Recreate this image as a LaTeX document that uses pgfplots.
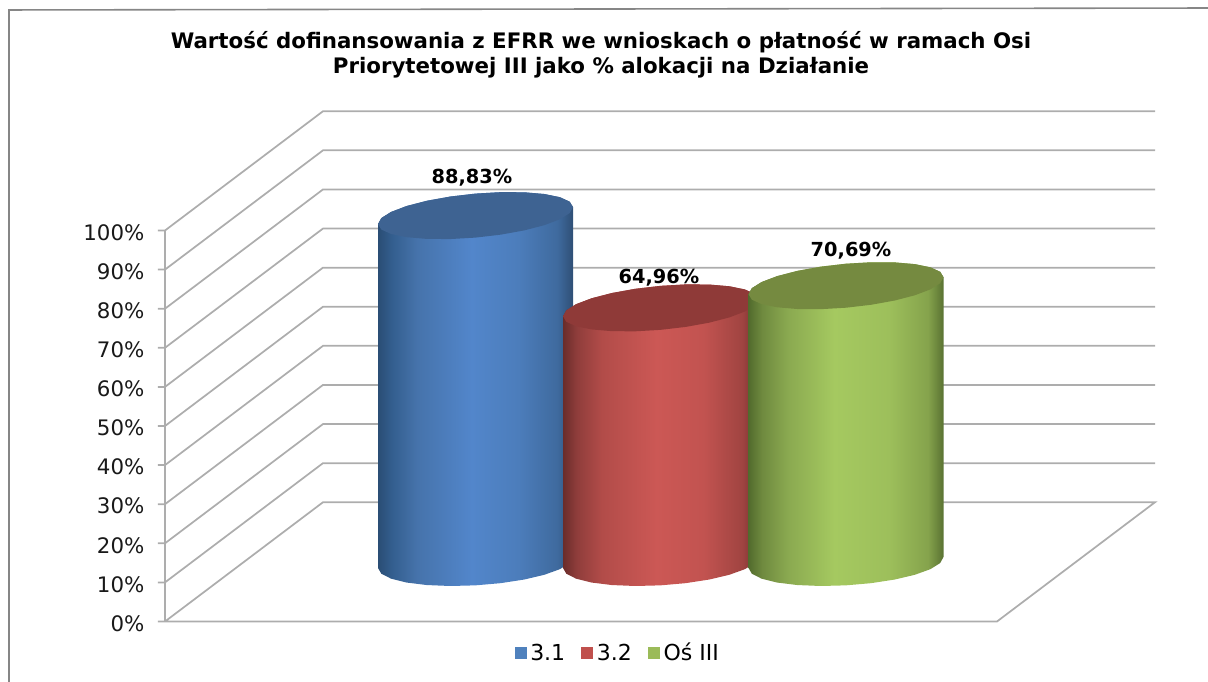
\documentclass[border=0pt]{standalone}
\usepackage{fontspec}
\setmainfont{DejaVu Sans}
\usepackage{pgfplots}
\usepackage{pgfplotstable}
\pgfplotsset{compat=1.18}

\definecolor{frameC}{HTML}{868686}
\definecolor{gridC}{HTML}{ADADAD}
\definecolor{legB}{HTML}{4F81BD}
\definecolor{legR}{HTML}{C0504D}
\definecolor{legG}{HTML}{9BBB59}
\definecolor{capB}{HTML}{3E6392}
\definecolor{capR}{HTML}{8F3A38}
\definecolor{capG}{HTML}{758A40}
\definecolor{b0}{HTML}{2A4D74}\definecolor{b1}{HTML}{335E8E}\definecolor{b2}{HTML}{4673AB}\definecolor{b3}{HTML}{5286CB}\definecolor{b4}{HTML}{4C7DBB}\definecolor{b5}{HTML}{3F6A9E}\definecolor{b6}{HTML}{2F4F75}
\definecolor{r0}{HTML}{6A2C2A}\definecolor{r1}{HTML}{8F3D3B}\definecolor{r2}{HTML}{B24C49}\definecolor{r3}{HTML}{CC5855}\definecolor{r4}{HTML}{C25350}\definecolor{r5}{HTML}{A04441}\definecolor{r6}{HTML}{6E2E2C}
\definecolor{g0}{HTML}{526B2D}\definecolor{g1}{HTML}{6F8A3F}\definecolor{g2}{HTML}{8AA950}\definecolor{g3}{HTML}{A5C960}\definecolor{g4}{HTML}{9DBF5B}\definecolor{g5}{HTML}{85A34C}\definecolor{g6}{HTML}{5A7232}

\pgfdeclarehorizontalshading{cylB}{100bp}{color(0bp)=(b0);color(25bp)=(b0);color(28.5bp)=(b1);color(35bp)=(b2);color(49bp)=(b3);color(61bp)=(b4);color(71bp)=(b5);color(75bp)=(b6);color(100bp)=(b6)}
\pgfdeclarehorizontalshading{cylR}{100bp}{color(0bp)=(r0);color(25bp)=(r0);color(28.5bp)=(r1);color(35bp)=(r2);color(49bp)=(r3);color(61bp)=(r4);color(71bp)=(r5);color(75bp)=(r6);color(100bp)=(r6)}
\pgfdeclarehorizontalshading{cylG}{100bp}{color(0bp)=(g0);color(25bp)=(g0);color(28.5bp)=(g1);color(35bp)=(g2);color(47bp)=(g3);color(61bp)=(g4);color(71bp)=(g5);color(75bp)=(g6);color(100bp)=(g6)}

% top ellipse of a cylinder, around its centre: dx on the x scale, dy in % of the y scale
\pgfplotstableread{
dx dy
97.5 2.174
94.18 3.556
84.44 4.696
68.94 5.516
48.75 5.960
25.23 5.998
0 5.627
-25.23 4.872
-48.75 3.786
-68.94 2.442
-84.44 0.930
-94.18 -0.644
-97.5 -2.174
-94.18 -3.556
-84.44 -4.696
-68.94 -5.516
-48.75 -5.960
-25.23 -5.998
0 -5.627
25.23 -4.872
48.75 -3.786
68.94 -2.442
84.44 -0.930
94.18 0.644
97.5 2.174
}\cylcap

% body outline: upper half of the top ellipse (top=1), lower half of the base (top=0)
\pgfplotstableread{
dx dy top
97.5 2.174 1
94.18 3.556 1
84.44 4.696 1
68.94 5.516 1
48.75 5.960 1
25.23 5.998 1
0 5.627 1
-25.23 4.872 1
-48.75 3.786 1
-68.94 2.442 1
-84.44 0.930 1
-94.18 -0.644 1
-97.5 -2.174 1
-97.5 -1.407 0
-94.18 -2.875 0
-84.44 -4.147 0
-68.94 -5.137 0
-48.75 -5.776 0
-25.23 -6.021 0
0 -5.857 0
25.23 -5.293 0
48.75 -4.368 0
68.94 -3.147 0
84.44 -1.711 0
94.18 -0.157 0
97.5 1.407 0
}\cylbody

\newcommand{\cyl}[4]{%
  \addplot[draw=none,forget plot,shading=#3] table[
    x expr=\thisrow{dx}+#1,
    y expr=\thisrow{dy}+15.1+\thisrow{top}*(0.9+0.9885*#2)] {\cylbody};
  \addplot[draw=none,fill=#4,forget plot] table[
    x expr=\thisrow{dx}+#1,
    y expr=\thisrow{dy}+16+0.9885*#2] {\cylcap};
}

\begin{document}
\begin{tikzpicture}
\path[use as bounding box] (-123.75pt,-45.375pt) rectangle (782.25pt,466.125pt);
\begin{axis}[
  scale only axis,
  width=624pt, height=293.25pt,
  xmin=165, xmax=997, ymin=0, ymax=100,
  clip=false,
  axis y line*=left, axis x line*=bottom,
  axis line style={draw=gridC,line width=1.3pt,-},
  xtick=\empty,
  ytick={0,10,...,100},
  yticklabel={\pgfmathprintnumber{\tick}\%},
  /pgf/number format/assume math mode=true,
  tick align=outside,
  major tick length=5.25pt,
  tick style={draw=gridC,line width=1pt},
  yticklabel style={font=\fontsize{16}{18}\selectfont,inner sep=0pt,text=black!90,yshift=-1.5pt},
  yticklabel shift=10pt,
  title={Wartość dofinansowania z EFRR we wnioskach o płatność w ramach Osi\\Priorytetowej III jako \% alokacji na Działanie},
  title style={at={(axis cs:601,142.8)},anchor=center,align=center,font=\fontsize{16}{18.75}\selectfont\bfseries,inner sep=0pt},
  legend image code/.code={\path[#1] (0pt,-4.5pt) rectangle (9pt,4.5pt);},
  legend style={at={(0.5445,-0.0806)},anchor=center,draw=none,fill=none,
    font=\fontsize{16.5}{20}\selectfont,legend columns=3,
    /tikz/every even column/.append style={column sep=10pt},
    /tikz/every odd column/.append style={column sep=0.75pt}},
]
% chart frame
\addplot[draw=frameC,line width=1.2pt,forget plot] coordinates {(9,-15.47)(9,156.4)(1208,156.9)};
% walls
\addplot[draw=gridC,line width=1.3pt,forget plot] coordinates {(165,0)(165,100)};
\addplot[draw=gridC,line width=1.3pt,forget plot] coordinates {(158,0)(165,0)(323,30.5)(1155,30.5)(997,0)(165,0)};
\addplot[draw=gridC,line width=1.3pt,forget plot] coordinates {(158,10)(165,10)(323,40.5)(1155,40.5)};
\addplot[draw=gridC,line width=1.3pt,forget plot] coordinates {(158,20)(165,20)(323,50.5)(1155,50.5)};
\addplot[draw=gridC,line width=1.3pt,forget plot] coordinates {(158,30)(165,30)(323,60.5)(1155,60.5)};
\addplot[draw=gridC,line width=1.3pt,forget plot] coordinates {(158,40)(165,40)(323,70.5)(1155,70.5)};
\addplot[draw=gridC,line width=1.3pt,forget plot] coordinates {(158,50)(165,50)(323,80.5)(1155,80.5)};
\addplot[draw=gridC,line width=1.3pt,forget plot] coordinates {(158,60)(165,60)(323,90.5)(1155,90.5)};
\addplot[draw=gridC,line width=1.3pt,forget plot] coordinates {(158,70)(165,70)(323,100.5)(1155,100.5)};
\addplot[draw=gridC,line width=1.3pt,forget plot] coordinates {(158,80)(165,80)(323,110.5)(1155,110.5)};
\addplot[draw=gridC,line width=1.3pt,forget plot] coordinates {(158,90)(165,90)(323,120.5)(1155,120.5)};
\addplot[draw=gridC,line width=1.3pt,forget plot] coordinates {(158,100)(165,100)(323,130.5)(1155,130.5)};
% cylinders
\cyl{475.5}{88.83}{cylB}{capB}
\cyl{660.5}{64.96}{cylR}{capR}
\cyl{846}{70.69}{cylG}{capG}
% legend
\addlegendimage{draw=none,fill=legB}
\addlegendentry{3.1}
\addlegendimage{draw=none,fill=legR}
\addlegendentry{3.2}
\addlegendimage{draw=none,fill=legG}
\addlegendentry{Oś III}
% value labels
\node[font=\fontsize{14.5}{18}\selectfont\bfseries] at (axis cs:472,113.5) {88,83\%};
\node[font=\fontsize{14.5}{18}\selectfont\bfseries] at (axis cs:659,88) {64,96\%};
\node[font=\fontsize{14.5}{18}\selectfont\bfseries] at (axis cs:851,94.9) {70,69\%};
\end{axis}
\end{tikzpicture}
\end{document}
